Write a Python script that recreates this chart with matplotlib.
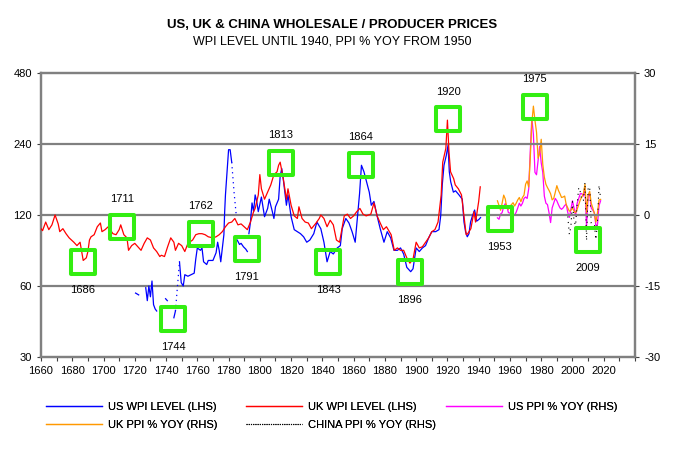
import numpy as np
import matplotlib.pyplot as plt

plt.rcParams['font.family'] = ['Liberation Sans', 'DejaVu Sans']
plt.rcParams['axes.unicode_minus'] = False

# UK wholesale price level (LHS)
uk_years = [1660, 1661, 1663, 1665, 1667, 1669, 1671, 1672, 1674, 1676, 1678, 1681, 1683, 1685,
            1687, 1689, 1690, 1691, 1692, 1694, 1696, 1698, 1699, 1701, 1703, 1706, 1708, 1710,
            1711, 1713, 1715, 1716, 1718, 1720, 1722, 1724, 1726, 1728, 1730, 1732, 1734, 1736,
            1737, 1739, 1741, 1743, 1745, 1746, 1748, 1750, 1752, 1754, 1757, 1759, 1761, 1763,
            1765, 1767, 1770, 1772, 1774, 1776, 1778, 1780, 1782, 1784, 1786, 1788, 1790, 1792,
            1794, 1796, 1797, 1799, 1800, 1801, 1803, 1805, 1807, 1809, 1811, 1812, 1813, 1815,
            1817, 1818, 1820, 1822, 1824, 1825, 1827, 1829, 1831, 1833, 1836, 1838, 1839, 1841,
            1843, 1845, 1847, 1849, 1851, 1854, 1856, 1858, 1860, 1862, 1864, 1866, 1868, 1871,
            1873, 1875, 1877, 1879, 1881, 1884, 1886, 1888, 1890, 1892, 1894, 1896, 1898, 1900,
            1902, 1904, 1906, 1908, 1910, 1912, 1914, 1916, 1917, 1919, 1920, 1921, 1922, 1924,
            1925, 1927, 1929, 1930, 1931, 1932, 1933, 1935, 1937, 1938, 1939, 1940, 1941]
uk_wpi = [105, 103, 112, 104, 109, 120, 110, 102, 105, 100, 96, 92, 89, 92,
          77, 79, 84, 94, 97, 99, 107, 111, 102, 104, 107, 100, 99, 104,
          109, 99, 96, 85, 89, 91, 88, 85, 91, 96, 94, 87, 84, 80,
          81, 80, 88, 96, 92, 85, 91, 89, 84, 91, 94, 99, 100, 100,
          99, 97, 96, 97, 99, 102, 107, 111, 112, 116, 109, 110, 107, 104,
          112, 124, 128, 146, 178, 155, 140, 150, 161, 178, 183, 195, 201, 171,
          140, 155, 132, 119, 116, 130, 116, 112, 111, 105, 111, 116, 120, 116,
          107, 114, 109, 94, 92, 119, 121, 116, 119, 124, 128, 121, 119, 121,
          135, 119, 111, 104, 107, 99, 85, 87, 85, 85, 79, 75, 78, 92,
          87, 88, 92, 96, 102, 104, 112, 146, 201, 230, 303, 222, 183, 171,
          161, 155, 146, 128, 112, 99, 100, 105, 124, 112, 124, 137, 158]

# US wholesale price level (LHS), gaps as nan
us_years = [1720.5, 1722.5, 1723,
            1727, 1728, 1729, 1730, 1731, 1732, 1733, 1734, 1735,
            1739.7, 1740.8, 1741,
            1745, 1746, 1746.5,
            1748.6, 1749.7, 1751, 1752, 1754, 1756, 1758, 1759, 1760, 1762, 1763, 1764,
            1766, 1767, 1770, 1772, 1773, 1774, 1775, 1777, 1777.5, 1778, 1779, 1780,
            1781, 1782, 1782.5,
            1785.5, 1787, 1788, 1789.5, 1791, 1792, 1792.5,
            1793, 1794, 1795, 1796, 1797, 1798, 1799, 1801, 1803, 1805, 1806, 1808, 1809,
            1810, 1812, 1813, 1814, 1815, 1817, 1818, 1820, 1822, 1824, 1826, 1828, 1830,
            1832, 1834.5, 1836.5, 1839, 1841, 1843, 1845, 1847, 1849.5, 1851.5, 1852.7, 1855,
            1857, 1859, 1861, 1862.8, 1863.8, 1865, 1866.6, 1868.3, 1870, 1871.3, 1873, 1875,
            1877, 1879.4, 1881.5, 1883.7, 1885.8, 1888, 1890, 1892, 1894, 1896.5, 1898, 1900,
            1902, 1904, 1906, 1908, 1910, 1912.5, 1914.6, 1915.7, 1916.7, 1917.8, 1919.3,
            1920.4, 1921.2, 1922.1, 1923.8, 1925.2, 1927.4, 1929.5, 1930.6, 1931.6, 1932.7,
            1933.8, 1934.8, 1936, 1937.4, 1938.7, 1940.2, 1941.2]
us_wpi = [56, 55, np.nan,
          59, 52, 60, 54, 63, 50, 48, 47, np.nan,
          53, 52, np.nan,
          44, 47, np.nan,
          76, 62, 60, 67, 66, 67, 68, 78, 87, 85, 87, 76,
          74, 77, 77, 83, 92, 85, 76, 99, 124, 146, 183, 227,
          227, 201, np.nan,
          94, 90, 91, 88, 86, 84, np.nan,
          100, 112, 135, 124, 146, 137, 124, 143, 118, 128, 140, 124, 116,
          130, 140, 175, 189, 170, 132, 146, 118, 104, 102, 100, 97, 92,
          94, 100, 112, 105, 92, 76, 84, 82, 87, 89, 105, 116,
          111, 102, 92, 124, 148, 195, 183, 166, 150, 132, 137, 119,
          105, 92, 102, 96, 85, 85, 87, 82, 72, 69, 71, 87,
          84, 87, 89, 96, 102, 102, 104, 119, 161, 195, 215,
          237, 183, 166, 150, 152, 146, 140, 112, 102, 97,
          100, 112, 119, 126, 113, 115, 117]

# US series dotted where data is patchy
us_dot_years = [1746, 1747.5, 1748.6, 1760, 1782, 1783.5, 1785]
us_dot_wpi = [47, 62, 76, np.nan, 201, 150, 118]

# PPI % YoY (RHS)
ppi_years = list(range(1952, 2019))
us_ppi = [-0.6, -0.9, 0.2, 0.5, 1.8, 2.4, 1.9, 0.5, 0.4, 0.1, 0.2, 0.0, 0.6, 1.5, 2.5, 1.9,
          2.5, 3.5, 3.8, 3.5, 5.5, 13.5, 20.5, 17.0, 9.0, 8.5, 11.5, 14.5, 11.0, 9.0, 4.0,
          2.5, 2.2, 0.5, -1.6, 1.5, 2.5, 3.5, 3.0, 2.2, 1.5, 1.2, 1.5, 2.0, 2.3, 0.5, -0.5,
          1.2, 3.0, 1.5, -0.2, 2.5, 3.5, 4.5, 4.5, 4.0, 5.8, -2.5, 4.0, 4.5, 1.5, 1.0, 0.5,
          -2.3, -2.0, 2.0, 3.0]
uk_ppi = [3.0, 2.0, 1.0, 2.5, 4.2, 3.4, 1.5, 1.2, 1.9, 2.2, 2.6, 1.9, 2.5, 3.2, 3.7, 2.8,
          3.7, 4.2, 6.5, 7.2, 5.9, 12.0, 19.5, 23.0, 20.0, 17.5, 12.0, 13.0, 16.0, 10.7, 8.0,
          6.5, 5.8, 5.2, 4.5, 3.2, 3.5, 4.8, 6.2, 5.2, 4.5, 3.7, 3.8, 4.0, 2.2, 1.5, 0.8,
          1.0, 1.5, 0.8, 0.5, 1.2, 2.2, 3.2, 3.8, 4.5, 6.5, 0.5, 4.2, 5.0, 2.5, 1.5, 0.3,
          -1.5, 0.5, 3.2, 3.3]
china_years = list(range(1997, 2019))
china_ppi = [-0.3, -4.1, -2.4, 2.8, -1.3, -2.2, 2.3, 5.8, 4.9, 3.0, 3.1, 6.9, -5.4, 5.5,
             6.0, -1.7, -1.9, -1.9, -5.2, -1.4, 6.3, 3.5]

# turning points highlighted with green boxes
turn_labels = ['1686', '1711', '1744', '1762', '1791', '1813', '1843', '1864', '1896',
               '1920', '1953', '1975', '2009']
turn_x = [1686.6, 1712, 1744.4, 1762.1, 1791.5, 1813.3, 1843.8, 1864.5, 1896, 1920.4,
          1953.6, 1975.8, 2010]
turn_y = [75.6, 107, 43.5, 100, 86, 199, 75.8, 195, 68.8, 305, 115, 345, 94]
turn_side = [-1, 1, -1, 1, -1, 1, -1, 1, -1, 1, -1, 1, -1]

grey = '#808080'
fig = plt.figure(figsize=(6.74, 4.49), dpi=100)
ax = fig.add_axes([41 / 674, 1 - 357 / 449, 594 / 674, 284 / 449])

ax.set_yscale('log', base=2)
ax.set_ylim(30, 480)
ax.set_xlim(1660, 2040)
ax.set_yticks([30, 60, 120, 240, 480])
ax.set_yticklabels(['30', '60', '120', '240', '480'])
ax.minorticks_off()
ax.set_xticks(range(1660, 2041, 10))
ax.set_xticklabels([str(y) if y % 20 == 0 and y <= 2020 else '' for y in range(1660, 2041, 10)])
for v in [60, 120, 240]:
    ax.axhline(v, color=grey, lw=1.6, zorder=1)

ax.plot(us_years, us_wpi, color='#0000ff', lw=0.9, zorder=3)
ax.plot(us_dot_years, us_dot_wpi, color='#0000ff', lw=0.9, ls=(0, (1, 3)), zorder=3)
ax.plot(uk_years, uk_wpi, color='#ff0000', lw=0.9, zorder=3)

ax2 = ax.twinx()
ax2.set_ylim(-30, 30)
ax2.set_yticks([-30, -15, 0, 15, 30])
ax2.plot(ppi_years, us_ppi, color='#ff00ff', lw=0.9, zorder=3)
ax2.plot(ppi_years, uk_ppi, color='#ff9900', lw=0.9, zorder=3)
ax2.plot(china_years, china_ppi, color='black', lw=0.8, ls=(0, (1, 4)), zorder=3)

ax.scatter(turn_x, turn_y, marker='s', s=300, facecolors='none', edgecolors='#33ee11',
           linewidths=2.9, zorder=6, clip_on=False)
for lab, x, y, side in zip(turn_labels, turn_x, turn_y, turn_side):
    ax.annotate(lab, (x, y), xytext=(0, 20 * side), textcoords='offset points',
                ha='center', va='center', fontsize=8, zorder=7)
ax.set_zorder(ax2.get_zorder() + 1)
ax.patch.set_visible(False)

for a in [ax, ax2]:
    for s in a.spines.values():
        s.set_color(grey)
        s.set_linewidth(1.6)
    a.tick_params(labelsize=8, length=3, width=0.8, color='#404040', direction='out')

fig.text(0.493, 1 - 25 / 449, 'US, UK & CHINA WHOLESALE / PRODUCER PRICES',
         ha='center', va='center', fontsize=9.5, fontweight='bold')
fig.text(0.493, 1 - 41 / 449, 'WPI LEVEL UNTIL 1940, PPI % YOY FROM 1950',
         ha='center', va='center', fontsize=9)

# legend laid out as three fixed-width columns
legend_cols = [
    ([plt.Line2D([], [], color='#0000ff', lw=0.9), plt.Line2D([], [], color='#ff9900', lw=0.9)],
     ['US WPI LEVEL (LHS)', 'UK PPI % YOY (RHS)']),
    ([plt.Line2D([], [], color='#ff0000', lw=0.9), plt.Line2D([], [], color='black', lw=0.8, ls=(0, (1, 1)))],
     ['UK WPI LEVEL (LHS)', 'CHINA PPI % YOY (RHS)']),
    ([plt.Line2D([], [], color='#ff00ff', lw=0.9)], ['US PPI % YOY (RHS)']),
]
for i, (h, l) in enumerate(legend_cols):
    leg = fig.legend(h, l, frameon=False, fontsize=8, loc='upper left',
                     bbox_to_anchor=((36 + 200 * i) / 674, 1 - 392 / 449),
                     handlelength=5, handletextpad=0.6, labelspacing=0.7)
    fig.add_artist(leg)

fig.savefig('out.png', dpi=100)
